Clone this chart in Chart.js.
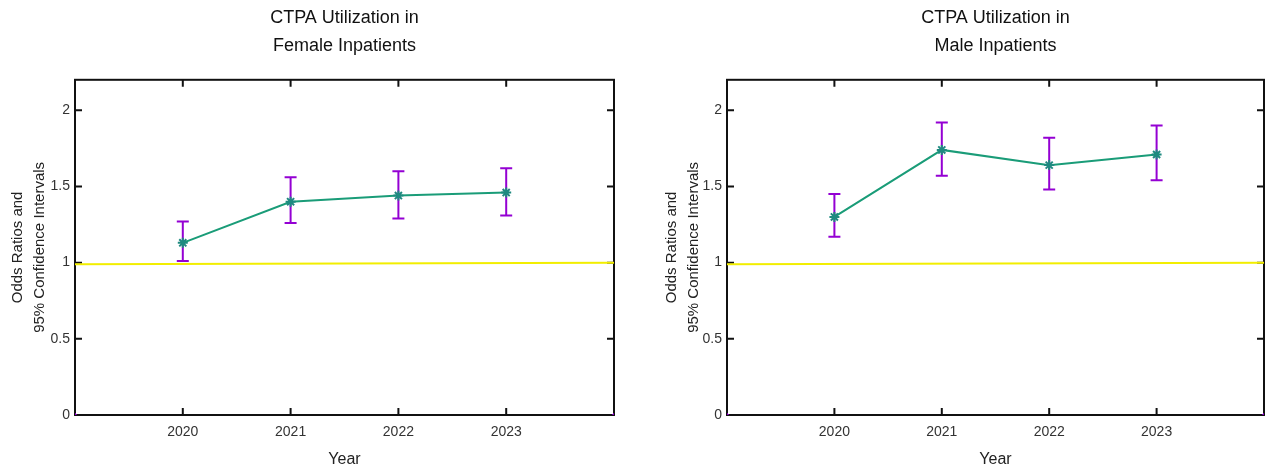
<!DOCTYPE html>
<html>
<head>
<meta charset="utf-8">
<script src="https://cdn.jsdelivr.net/npm/chart.js@4/dist/chart.umd.min.js"></script>
<style>
  html, body { margin: 0; padding: 0; background: #fff; }
  body { width: 1271px; height: 469px; position: relative; overflow: hidden; }
  .box { position: absolute; top: 0; height: 469px; }
</style>
</head>
<body>
<div class="box" style="left:0;width:640px"><canvas id="femaleChart"></canvas></div>
<div class="box" style="left:654px;width:617px"><canvas id="maleChart"></canvas></div>
<script>
const years = [2020, 2021, 2022, 2023];
const femaleOR = [1.13, 1.40, 1.44, 1.46];
const femaleLow = [1.01, 1.26, 1.29, 1.31];
const femaleHigh = [1.27, 1.56, 1.60, 1.62];
const maleOR = [1.30, 1.74, 1.64, 1.71];
const maleLow = [1.17, 1.57, 1.48, 1.54];
const maleHigh = [1.45, 1.92, 1.82, 1.90];
const refX = [2019, 2024];
const refY = [0.99, 1.0];
const yTicks = [0, 0.5, 1, 1.5, 2];

const FONT = "'Liberation Sans', Arial, sans-serif";
const PURPLE = '#9400d3';
const GREEN = '#1a9c78';

// gnuplot-like frame, inward ticks, and error bars
const framePlugin = {
    id: 'frame',
    beforeDatasetsDraw(chart, args, opts) {
        const {ctx, chartArea: a, scales: {x, y}} = chart;
        ctx.save();
        ctx.strokeStyle = '#111';
        ctx.lineWidth = 2;
        ctx.strokeRect(a.left, a.top, a.right - a.left, a.bottom - a.top);
        const len = 7;
        ctx.beginPath();
        x.ticks.forEach(t => {
            const px = x.getPixelForValue(t.value);
            ctx.moveTo(px, a.bottom); ctx.lineTo(px, a.bottom - len);
            ctx.moveTo(px, a.top); ctx.lineTo(px, a.top + len);
        });
        y.ticks.forEach(t => {
            const py = y.getPixelForValue(t.value);
            ctx.moveTo(a.left, py); ctx.lineTo(a.left + len, py);
            ctx.moveTo(a.right, py); ctx.lineTo(a.right - len, py);
        });
        ctx.stroke();

        // error bars
        ctx.strokeStyle = PURPLE;
        ctx.lineWidth = 2;
        ctx.beginPath();
        opts.low.forEach((lo, i) => {
            const px = x.getPixelForValue(years[i]);
            const y0 = y.getPixelForValue(lo);
            const y1 = y.getPixelForValue(opts.high[i]);
            ctx.moveTo(px, y0); ctx.lineTo(px, y1);
            ctx.moveTo(px - 6, y0); ctx.lineTo(px + 6, y0);
            ctx.moveTo(px - 6, y1); ctx.lineTo(px + 6, y1);
        });
        ctx.stroke();
        ctx.restore();
    }
};

function makeChart(id, title, or, low, high, axisWidth, padRight) {
    new Chart(document.getElementById(id), {
        type: 'line',
        data: {
            datasets: [{
                data: refX.map((v, i) => ({x: v, y: refY[i]})),
                borderColor: '#f2ee00',
                borderWidth: 2,
                pointRadius: 0
            }, {
                data: years.map((v, i) => ({x: v, y: or[i]})),
                borderColor: GREEN,
                borderWidth: 2,
                pointStyle: 'star',
                pointRadius: 5,
                pointBorderWidth: 2,
                pointBorderColor: '#1f8a80',
                pointBackgroundColor: '#1f8a80'
            }, {
                data: refX.map(v => ({x: v, y: 0})),
                showLine: false,
                pointStyle: 'cross',
                pointRadius: 2,
                pointBorderWidth: 1.5,
                pointBorderColor: PURPLE
            }]
        },
        options: {
            responsive: true,
            maintainAspectRatio: false,
            devicePixelRatio: 1,
            animation: false,
            layout: { padding: { left: 0, right: padRight, top: 0, bottom: 0 } },
            plugins: {
                legend: { display: false },
                tooltip: { enabled: false },
                title: {
                    display: true,
                    fullSize: false,
                    text: title,
                    color: '#111',
                    font: { family: FONT, size: 18, weight: 'normal', lineHeight: 1.55 },
                    padding: { top: 4, bottom: 20 }
                },
                frame: { low: low, high: high }
            },
            scales: {
                x: {
                    type: 'linear',
                    min: 2019,
                    max: 2024,
                    afterBuildTicks: s => { s.ticks = years.map(v => ({value: v})); },
                    afterFit: s => { s.height = 54; },
                    grid: { display: false, drawTicks: false },
                    border: { display: false },
                    ticks: {
                        padding: 9,
                        maxRotation: 0,
                        autoSkip: false,
                        color: '#333',
                        font: { family: FONT, size: 14 },
                        callback: v => String(v)
                    },
                    title: {
                        display: true,
                        text: 'Year',
                        color: '#222',
                        font: { family: FONT, size: 16, lineHeight: 1.2 },
                        padding: { top: 0, bottom: 0 }
                    }
                },
                y: {
                    min: 0,
                    max: 2.2,
                    afterBuildTicks: s => { s.ticks = yTicks.map(v => ({value: v})); },
                    afterFit: s => { s.width = axisWidth; },
                    grid: { display: false, drawTicks: false },
                    border: { display: false },
                    ticks: {
                        padding: 5,
                        color: '#333',
                        font: { family: FONT, size: 14 },
                        callback: v => String(v)
                    },
                    title: {
                        display: true,
                        text: ['Odds Ratios and', '95% Confidence Intervals'],
                        color: '#222',
                        font: { family: FONT, size: 15, lineHeight: 1.47 },
                        padding: { top: 7, bottom: 0 }
                    }
                }
            }
        },
        plugins: [framePlugin]
    });
}

makeChart('femaleChart', ['CTPA Utilization in', 'Female Inpatients'],
    femaleOR, femaleLow, femaleHigh, 75, 26);
makeChart('maleChart', ['CTPA Utilization in', 'Male Inpatients'],
    maleOR, maleLow, maleHigh, 73, 1);
</script>
</body>
</html>
